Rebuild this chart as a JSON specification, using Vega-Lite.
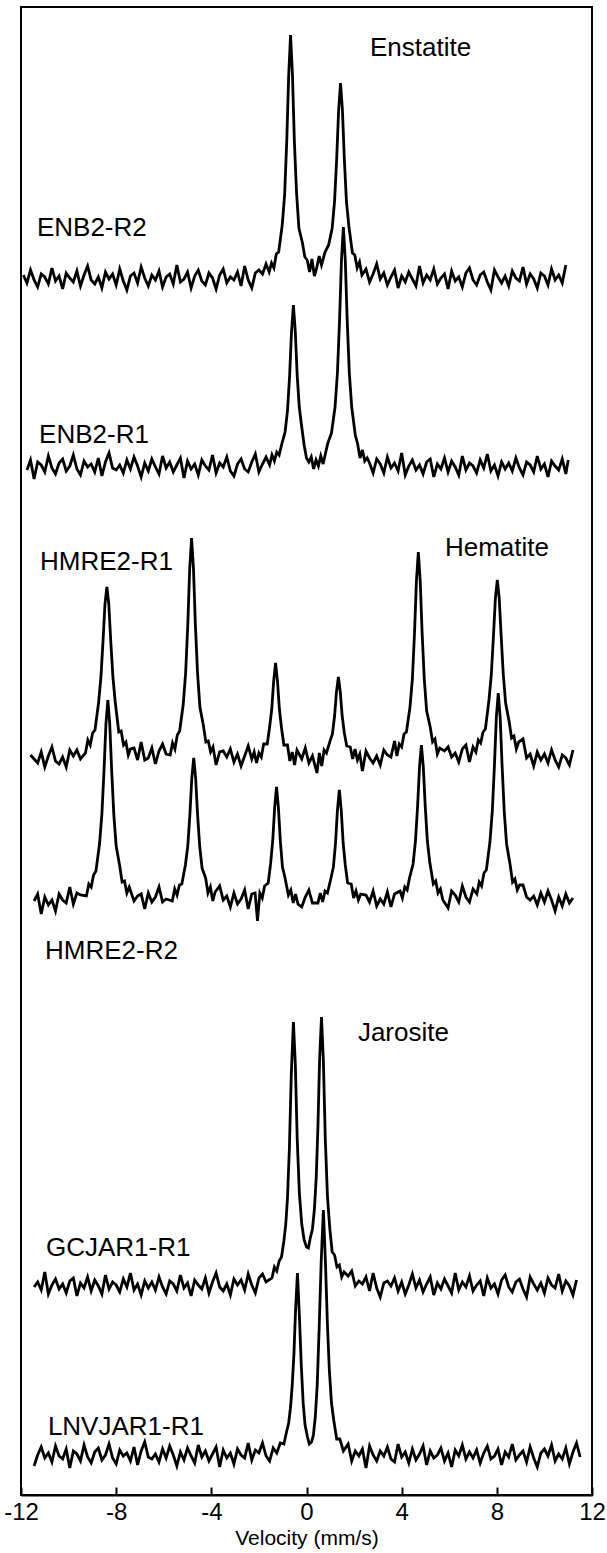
{
"$schema":"https://vega.github.io/schema/vega-lite/v6.json",
"width":571,"height":1488,
"padding":{"left":21,"top":7,"right":15,"bottom":58},
"autosize":{"type":"none"},
"background":"white",
"config":{"view":{"stroke":"black","strokeWidth":2},"font":"Liberation Sans"},
"datasets":{
"ENB2-R2":[{"v":-11.9,"y":1218},{"v":-11.75,"y":1210},{"v":-11.6,"y":1223},{"v":-11.45,"y":1213},{"v":-11.3,"y":1206},{"v":-11.15,"y":1219},{"v":-11.0,"y":1216},{"v":-10.85,"y":1209},{"v":-10.7,"y":1225},{"v":-10.55,"y":1212},{"v":-10.4,"y":1217},{"v":-10.25,"y":1204},{"v":-10.1,"y":1220},{"v":-9.95,"y":1215},{"v":-9.8,"y":1211},{"v":-9.65,"y":1222},{"v":-9.5,"y":1207},{"v":-9.35,"y":1218},{"v":-9.2,"y":1227},{"v":-9.05,"y":1213},{"v":-8.9,"y":1209},{"v":-8.75,"y":1216},{"v":-8.6,"y":1205},{"v":-8.45,"y":1221},{"v":-8.3,"y":1214},{"v":-8.15,"y":1219},{"v":-8.0,"y":1208},{"v":-7.85,"y":1224},{"v":-7.7,"y":1212},{"v":-7.55,"y":1203},{"v":-7.4,"y":1217},{"v":-7.25,"y":1220},{"v":-7.1,"y":1210},{"v":-6.95,"y":1226},{"v":-6.8,"y":1215},{"v":-6.65,"y":1207},{"v":-6.5,"y":1218},{"v":-6.35,"y":1213},{"v":-6.2,"y":1222},{"v":-6.05,"y":1206},{"v":-5.9,"y":1216},{"v":-5.75,"y":1219},{"v":-5.6,"y":1209},{"v":-5.45,"y":1228},{"v":-5.3,"y":1211},{"v":-5.15,"y":1214},{"v":-5.0,"y":1221},{"v":-4.85,"y":1205},{"v":-4.7,"y":1217},{"v":-4.55,"y":1223},{"v":-4.4,"y":1212},{"v":-4.25,"y":1208},{"v":-4.1,"y":1220},{"v":-3.95,"y":1215},{"v":-3.8,"y":1204},{"v":-3.65,"y":1218},{"v":-3.5,"y":1224},{"v":-3.35,"y":1210},{"v":-3.2,"y":1216},{"v":-3.05,"y":1213},{"v":-2.9,"y":1221},{"v":-2.75,"y":1207},{"v":-2.6,"y":1227},{"v":-2.45,"y":1213},{"v":-2.3,"y":1205},{"v":-2.15,"y":1220},{"v":-2.0,"y":1223},{"v":-1.85,"y":1219},{"v":-1.7,"y":1229},{"v":-1.57,"y":1221},{"v":-1.47,"y":1230},{"v":-1.37,"y":1225},{"v":-1.27,"y":1239},{"v":-1.17,"y":1241},{"v":-1.02,"y":1268},{"v":-0.92,"y":1298},{"v":-0.83,"y":1352},{"v":-0.75,"y":1417},{"v":-0.67,"y":1458},{"v":-0.59,"y":1418},{"v":-0.51,"y":1352},{"v":-0.42,"y":1301},{"v":-0.32,"y":1265},{"v":-0.25,"y":1258},{"v":-0.17,"y":1250},{"v":-0.07,"y":1236},{"v":0.03,"y":1233},{"v":0.13,"y":1221},{"v":0.23,"y":1234},{"v":0.33,"y":1217},{"v":0.43,"y":1225},{"v":0.53,"y":1237},{"v":0.63,"y":1228},{"v":0.78,"y":1241},{"v":0.93,"y":1248},{"v":1.08,"y":1265},{"v":1.18,"y":1292},{"v":1.27,"y":1335},{"v":1.35,"y":1383},{"v":1.43,"y":1410},{"v":1.51,"y":1383},{"v":1.59,"y":1334},{"v":1.68,"y":1291},{"v":1.78,"y":1267},{"v":1.93,"y":1240},{"v":2.03,"y":1238},{"v":2.13,"y":1225},{"v":2.23,"y":1231},{"v":2.33,"y":1218},{"v":2.5,"y":1224},{"v":2.65,"y":1211},{"v":2.8,"y":1219},{"v":2.95,"y":1229},{"v":3.1,"y":1214},{"v":3.25,"y":1220},{"v":3.4,"y":1208},{"v":3.55,"y":1216},{"v":3.7,"y":1223},{"v":3.85,"y":1205},{"v":4.0,"y":1217},{"v":4.15,"y":1211},{"v":4.3,"y":1221},{"v":4.45,"y":1214},{"v":4.6,"y":1207},{"v":4.75,"y":1227},{"v":4.9,"y":1210},{"v":5.05,"y":1218},{"v":5.2,"y":1213},{"v":5.35,"y":1224},{"v":5.5,"y":1209},{"v":5.65,"y":1215},{"v":5.8,"y":1219},{"v":5.95,"y":1204},{"v":6.1,"y":1222},{"v":6.25,"y":1212},{"v":6.4,"y":1216},{"v":6.55,"y":1206},{"v":6.7,"y":1220},{"v":6.85,"y":1225},{"v":7.0,"y":1213},{"v":7.15,"y":1208},{"v":7.3,"y":1218},{"v":7.45,"y":1221},{"v":7.6,"y":1211},{"v":7.75,"y":1203},{"v":7.9,"y":1223},{"v":8.05,"y":1216},{"v":8.2,"y":1210},{"v":8.35,"y":1217},{"v":8.5,"y":1207},{"v":8.65,"y":1222},{"v":8.8,"y":1215},{"v":8.95,"y":1212},{"v":9.1,"y":1226},{"v":9.25,"y":1209},{"v":9.4,"y":1219},{"v":9.55,"y":1214},{"v":9.7,"y":1205},{"v":9.85,"y":1220},{"v":10.0,"y":1217},{"v":10.15,"y":1208},{"v":10.3,"y":1224},{"v":10.45,"y":1213},{"v":10.6,"y":1218},{"v":10.75,"y":1210},{"v":10.9,"y":1228}],
"ENB2-R1":[{"v":-11.75,"y":1023},{"v":-11.6,"y":1033},{"v":-11.45,"y":1014},{"v":-11.3,"y":1031},{"v":-11.15,"y":1028},{"v":-11.0,"y":1021},{"v":-10.85,"y":1037},{"v":-10.7,"y":1025},{"v":-10.55,"y":1019},{"v":-10.4,"y":1030},{"v":-10.25,"y":1034},{"v":-10.1,"y":1022},{"v":-9.95,"y":1027},{"v":-9.8,"y":1038},{"v":-9.65,"y":1024},{"v":-9.5,"y":1018},{"v":-9.35,"y":1032},{"v":-9.2,"y":1026},{"v":-9.05,"y":1029},{"v":-8.9,"y":1021},{"v":-8.75,"y":1035},{"v":-8.6,"y":1017},{"v":-8.45,"y":1031},{"v":-8.3,"y":1040},{"v":-8.15,"y":1025},{"v":-8.0,"y":1023},{"v":-7.85,"y":1028},{"v":-7.7,"y":1020},{"v":-7.55,"y":1033},{"v":-7.4,"y":1024},{"v":-7.25,"y":1036},{"v":-7.1,"y":1027},{"v":-6.95,"y":1016},{"v":-6.8,"y":1030},{"v":-6.65,"y":1022},{"v":-6.5,"y":1034},{"v":-6.35,"y":1026},{"v":-6.2,"y":1019},{"v":-6.05,"y":1037},{"v":-5.9,"y":1025},{"v":-5.75,"y":1031},{"v":-5.6,"y":1021},{"v":-5.45,"y":1028},{"v":-5.3,"y":1035},{"v":-5.15,"y":1015},{"v":-5.0,"y":1032},{"v":-4.85,"y":1024},{"v":-4.7,"y":1029},{"v":-4.55,"y":1018},{"v":-4.4,"y":1033},{"v":-4.25,"y":1027},{"v":-4.1,"y":1023},{"v":-3.95,"y":1038},{"v":-3.8,"y":1020},{"v":-3.65,"y":1030},{"v":-3.5,"y":1026},{"v":-3.35,"y":1036},{"v":-3.2,"y":1022},{"v":-3.05,"y":1017},{"v":-2.9,"y":1029},{"v":-2.75,"y":1034},{"v":-2.6,"y":1024},{"v":-2.45,"y":1021},{"v":-2.3,"y":1031},{"v":-2.15,"y":1039},{"v":-2.0,"y":1021},{"v":-1.85,"y":1029},{"v":-1.7,"y":1036},{"v":-1.55,"y":1028},{"v":-1.45,"y":1038},{"v":-1.35,"y":1032},{"v":-1.25,"y":1041},{"v":-1.15,"y":1038},{"v":-1.05,"y":1048},{"v":-0.9,"y":1061},{"v":-0.8,"y":1082},{"v":-0.71,"y":1117},{"v":-0.63,"y":1161},{"v":-0.55,"y":1188},{"v":-0.47,"y":1161},{"v":-0.39,"y":1117},{"v":-0.3,"y":1085},{"v":-0.2,"y":1066},{"v":-0.1,"y":1048},{"v":0.0,"y":1035},{"v":0.1,"y":1031},{"v":0.2,"y":1036},{"v":0.3,"y":1024},{"v":0.4,"y":1033},{"v":0.5,"y":1027},{"v":0.6,"y":1037},{"v":0.7,"y":1029},{"v":0.8,"y":1040},{"v":0.9,"y":1050},{"v":1.05,"y":1060},{"v":1.2,"y":1086},{"v":1.3,"y":1120},{"v":1.39,"y":1173},{"v":1.47,"y":1233},{"v":1.55,"y":1266},{"v":1.63,"y":1233},{"v":1.71,"y":1173},{"v":1.8,"y":1120},{"v":1.9,"y":1086},{"v":2.05,"y":1058},{"v":2.15,"y":1049},{"v":2.25,"y":1035},{"v":2.35,"y":1043},{"v":2.45,"y":1032},{"v":2.55,"y":1035},{"v":2.65,"y":1030},{"v":2.8,"y":1020},{"v":2.95,"y":1034},{"v":3.1,"y":1029},{"v":3.25,"y":1020},{"v":3.4,"y":1036},{"v":3.55,"y":1025},{"v":3.7,"y":1030},{"v":3.85,"y":1022},{"v":4.0,"y":1040},{"v":4.15,"y":1018},{"v":4.3,"y":1027},{"v":4.45,"y":1033},{"v":4.6,"y":1023},{"v":4.75,"y":1028},{"v":4.9,"y":1019},{"v":5.05,"y":1031},{"v":5.2,"y":1034},{"v":5.35,"y":1016},{"v":5.5,"y":1029},{"v":5.65,"y":1024},{"v":5.8,"y":1035},{"v":5.95,"y":1021},{"v":6.1,"y":1032},{"v":6.25,"y":1026},{"v":6.4,"y":1018},{"v":6.55,"y":1037},{"v":6.7,"y":1023},{"v":6.85,"y":1030},{"v":7.0,"y":1027},{"v":7.15,"y":1020},{"v":7.3,"y":1033},{"v":7.45,"y":1025},{"v":7.6,"y":1039},{"v":7.75,"y":1022},{"v":7.9,"y":1028},{"v":8.05,"y":1017},{"v":8.2,"y":1031},{"v":8.35,"y":1024},{"v":8.5,"y":1030},{"v":8.65,"y":1022},{"v":8.8,"y":1035},{"v":8.95,"y":1025},{"v":9.1,"y":1018},{"v":9.25,"y":1031},{"v":9.4,"y":1028},{"v":9.55,"y":1021},{"v":9.7,"y":1037},{"v":9.85,"y":1024},{"v":10.0,"y":1029},{"v":10.15,"y":1016},{"v":10.3,"y":1032},{"v":10.45,"y":1027},{"v":10.6,"y":1023},{"v":10.75,"y":1034},{"v":10.9,"y":1019},{"v":11.0,"y":1033}],
"HMRE2-R1":[{"v":-11.6,"y":738},{"v":-11.45,"y":734},{"v":-11.3,"y":730},{"v":-11.15,"y":741},{"v":-11.0,"y":726},{"v":-10.85,"y":737},{"v":-10.7,"y":746},{"v":-10.55,"y":732},{"v":-10.4,"y":729},{"v":-10.25,"y":736},{"v":-10.1,"y":726},{"v":-9.95,"y":743},{"v":-9.8,"y":737},{"v":-9.65,"y":743},{"v":-9.5,"y":734},{"v":-9.29,"y":740},{"v":-9.19,"y":753},{"v":-9.09,"y":748},{"v":-8.99,"y":760},{"v":-8.89,"y":763},{"v":-8.74,"y":790},{"v":-8.64,"y":816},{"v":-8.55,"y":853},{"v":-8.47,"y":889},{"v":-8.39,"y":906},{"v":-8.31,"y":889},{"v":-8.23,"y":853},{"v":-8.14,"y":817},{"v":-8.04,"y":791},{"v":-7.89,"y":761},{"v":-7.79,"y":762},{"v":-7.69,"y":748},{"v":-7.59,"y":751},{"v":-7.49,"y":738},{"v":-7.4,"y":744},{"v":-7.25,"y":745},{"v":-7.1,"y":733},{"v":-6.95,"y":751},{"v":-6.8,"y":733},{"v":-6.65,"y":735},{"v":-6.5,"y":745},{"v":-6.35,"y":729},{"v":-6.2,"y":742},{"v":-6.05,"y":749},{"v":-5.9,"y":739},{"v":-5.73,"y":738},{"v":-5.63,"y":750},{"v":-5.53,"y":744},{"v":-5.43,"y":758},{"v":-5.33,"y":762},{"v":-5.18,"y":789},{"v":-5.08,"y":820},{"v":-4.99,"y":868},{"v":-4.91,"y":924},{"v":-4.83,"y":955},{"v":-4.75,"y":924},{"v":-4.67,"y":868},{"v":-4.58,"y":820},{"v":-4.48,"y":786},{"v":-4.33,"y":767},{"v":-4.23,"y":751},{"v":-4.13,"y":752},{"v":-4.03,"y":741},{"v":-3.93,"y":746},{"v":-3.8,"y":728},{"v":-3.65,"y":741},{"v":-3.5,"y":742},{"v":-3.35,"y":736},{"v":-3.2,"y":744},{"v":-3.05,"y":731},{"v":-2.9,"y":739},{"v":-2.75,"y":727},{"v":-2.6,"y":737},{"v":-2.45,"y":747},{"v":-2.3,"y":734},{"v":-2.2,"y":741},{"v":-2.1,"y":730},{"v":-2.0,"y":740},{"v":-1.9,"y":736},{"v":-1.8,"y":749},{"v":-1.65,"y":749},{"v":-1.55,"y":766},{"v":-1.46,"y":784},{"v":-1.38,"y":812},{"v":-1.3,"y":830},{"v":-1.22,"y":812},{"v":-1.14,"y":784},{"v":-1.05,"y":765},{"v":-0.95,"y":748},{"v":-0.8,"y":748},{"v":-0.7,"y":732},{"v":-0.6,"y":741},{"v":-0.5,"y":728},{"v":-0.4,"y":743},{"v":-0.2,"y":734},{"v":-0.05,"y":745},{"v":0.1,"y":730},{"v":0.25,"y":737},{"v":0.44,"y":720},{"v":0.54,"y":740},{"v":0.64,"y":727},{"v":0.74,"y":743},{"v":0.84,"y":740},{"v":0.99,"y":752},{"v":1.09,"y":759},{"v":1.18,"y":777},{"v":1.26,"y":801},{"v":1.34,"y":816},{"v":1.42,"y":801},{"v":1.5,"y":777},{"v":1.59,"y":760},{"v":1.69,"y":747},{"v":1.84,"y":746},{"v":1.94,"y":734},{"v":2.04,"y":744},{"v":2.14,"y":733},{"v":2.24,"y":739},{"v":2.35,"y":722},{"v":2.5,"y":742},{"v":2.65,"y":735},{"v":2.8,"y":730},{"v":2.95,"y":737},{"v":3.1,"y":728},{"v":3.25,"y":743},{"v":3.4,"y":738},{"v":3.55,"y":736},{"v":3.7,"y":752},{"v":3.8,"y":737},{"v":3.9,"y":749},{"v":4.0,"y":746},{"v":4.1,"y":759},{"v":4.2,"y":761},{"v":4.35,"y":786},{"v":4.45,"y":814},{"v":4.54,"y":860},{"v":4.62,"y":912},{"v":4.7,"y":941},{"v":4.78,"y":912},{"v":4.86,"y":860},{"v":4.95,"y":814},{"v":5.05,"y":782},{"v":5.2,"y":766},{"v":5.3,"y":751},{"v":5.4,"y":754},{"v":5.5,"y":739},{"v":5.6,"y":745},{"v":5.8,"y":742},{"v":5.95,"y":746},{"v":6.1,"y":736},{"v":6.25,"y":740},{"v":6.4,"y":731},{"v":6.55,"y":744},{"v":6.7,"y":748},{"v":6.85,"y":731},{"v":7.0,"y":746},{"v":7.12,"y":741},{"v":7.22,"y":753},{"v":7.32,"y":750},{"v":7.42,"y":761},{"v":7.52,"y":764},{"v":7.67,"y":793},{"v":7.77,"y":819},{"v":7.86,"y":858},{"v":7.94,"y":895},{"v":8.02,"y":913},{"v":8.1,"y":895},{"v":8.18,"y":858},{"v":8.27,"y":819},{"v":8.37,"y":790},{"v":8.52,"y":771},{"v":8.62,"y":755},{"v":8.72,"y":757},{"v":8.82,"y":744},{"v":8.92,"y":751},{"v":9.1,"y":754},{"v":9.25,"y":735},{"v":9.4,"y":739},{"v":9.55,"y":727},{"v":9.7,"y":741},{"v":9.85,"y":733},{"v":10.0,"y":739},{"v":10.15,"y":730},{"v":10.3,"y":743},{"v":10.45,"y":733},{"v":10.6,"y":726},{"v":10.75,"y":738},{"v":10.9,"y":735},{"v":11.05,"y":728},{"v":11.2,"y":743}],
"HMRE2-R2":[{"v":-11.45,"y":592},{"v":-11.3,"y":599},{"v":-11.15,"y":579},{"v":-11.0,"y":596},{"v":-10.85,"y":588},{"v":-10.7,"y":593},{"v":-10.55,"y":582},{"v":-10.4,"y":599},{"v":-10.25,"y":593},{"v":-10.1,"y":590},{"v":-9.95,"y":606},{"v":-9.8,"y":589},{"v":-9.65,"y":600},{"v":-9.5,"y":598},{"v":-9.25,"y":597},{"v":-9.15,"y":609},{"v":-9.05,"y":606},{"v":-8.95,"y":618},{"v":-8.85,"y":622},{"v":-8.7,"y":649},{"v":-8.6,"y":679},{"v":-8.51,"y":723},{"v":-8.43,"y":769},{"v":-8.35,"y":793},{"v":-8.27,"y":769},{"v":-8.19,"y":723},{"v":-8.1,"y":679},{"v":-8.0,"y":647},{"v":-7.85,"y":627},{"v":-7.75,"y":611},{"v":-7.65,"y":612},{"v":-7.55,"y":600},{"v":-7.45,"y":606},{"v":-7.25,"y":592},{"v":-7.1,"y":597},{"v":-6.95,"y":599},{"v":-6.8,"y":584},{"v":-6.65,"y":600},{"v":-6.5,"y":591},{"v":-6.35,"y":596},{"v":-6.2,"y":606},{"v":-6.05,"y":591},{"v":-5.9,"y":594},{"v":-5.64,"y":592},{"v":-5.54,"y":604},{"v":-5.44,"y":598},{"v":-5.34,"y":608},{"v":-5.24,"y":609},{"v":-5.09,"y":628},{"v":-4.99,"y":647},{"v":-4.9,"y":679},{"v":-4.82,"y":715},{"v":-4.74,"y":735},{"v":-4.66,"y":715},{"v":-4.58,"y":679},{"v":-4.49,"y":647},{"v":-4.39,"y":625},{"v":-4.24,"y":615},{"v":-4.14,"y":600},{"v":-4.04,"y":606},{"v":-3.94,"y":592},{"v":-3.84,"y":601},{"v":-3.65,"y":607},{"v":-3.5,"y":593},{"v":-3.35,"y":597},{"v":-3.2,"y":586},{"v":-3.05,"y":600},{"v":-2.9,"y":589},{"v":-2.75,"y":594},{"v":-2.6,"y":603},{"v":-2.45,"y":584},{"v":-2.3,"y":599},{"v":-2.16,"y":600},{"v":-2.06,"y":572},{"v":-1.96,"y":600},{"v":-1.86,"y":595},{"v":-1.76,"y":607},{"v":-1.61,"y":610},{"v":-1.51,"y":629},{"v":-1.42,"y":652},{"v":-1.34,"y":685},{"v":-1.26,"y":706},{"v":-1.18,"y":685},{"v":-1.1,"y":652},{"v":-1.01,"y":626},{"v":-0.91,"y":616},{"v":-0.76,"y":598},{"v":-0.66,"y":603},{"v":-0.56,"y":590},{"v":-0.46,"y":599},{"v":-0.36,"y":589},{"v":-0.2,"y":586},{"v":-0.05,"y":596},{"v":0.1,"y":603},{"v":0.25,"y":590},{"v":0.48,"y":590},{"v":0.58,"y":600},{"v":0.68,"y":591},{"v":0.78,"y":602},{"v":0.88,"y":600},{"v":1.03,"y":615},{"v":1.13,"y":626},{"v":1.22,"y":650},{"v":1.3,"y":683},{"v":1.38,"y":703},{"v":1.46,"y":683},{"v":1.54,"y":650},{"v":1.63,"y":628},{"v":1.73,"y":610},{"v":1.88,"y":609},{"v":1.98,"y":595},{"v":2.08,"y":602},{"v":2.18,"y":593},{"v":2.28,"y":599},{"v":2.5,"y":598},{"v":2.65,"y":591},{"v":2.8,"y":602},{"v":2.95,"y":587},{"v":3.1,"y":594},{"v":3.25,"y":589},{"v":3.4,"y":601},{"v":3.55,"y":586},{"v":3.7,"y":599},{"v":3.93,"y":602},{"v":4.03,"y":595},{"v":4.13,"y":606},{"v":4.23,"y":603},{"v":4.33,"y":615},{"v":4.48,"y":629},{"v":4.58,"y":652},{"v":4.67,"y":687},{"v":4.75,"y":726},{"v":4.83,"y":748},{"v":4.91,"y":726},{"v":4.99,"y":687},{"v":5.08,"y":652},{"v":5.18,"y":631},{"v":5.33,"y":609},{"v":5.43,"y":612},{"v":5.53,"y":600},{"v":5.63,"y":604},{"v":5.73,"y":593},{"v":5.95,"y":585},{"v":6.1,"y":602},{"v":6.25,"y":598},{"v":6.4,"y":591},{"v":6.55,"y":607},{"v":6.7,"y":596},{"v":6.85,"y":591},{"v":7.0,"y":604},{"v":7.16,"y":599},{"v":7.26,"y":611},{"v":7.36,"y":607},{"v":7.46,"y":620},{"v":7.56,"y":623},{"v":7.71,"y":651},{"v":7.81,"y":682},{"v":7.9,"y":728},{"v":7.98,"y":776},{"v":8.06,"y":800},{"v":8.14,"y":776},{"v":8.22,"y":728},{"v":8.31,"y":682},{"v":8.41,"y":649},{"v":8.56,"y":628},{"v":8.66,"y":611},{"v":8.76,"y":614},{"v":8.86,"y":603},{"v":8.96,"y":608},{"v":9.1,"y":608},{"v":9.25,"y":596},{"v":9.4,"y":593},{"v":9.55,"y":597},{"v":9.7,"y":588},{"v":9.85,"y":600},{"v":10.0,"y":591},{"v":10.15,"y":602},{"v":10.3,"y":593},{"v":10.45,"y":582},{"v":10.6,"y":596},{"v":10.75,"y":587},{"v":10.9,"y":599},{"v":11.05,"y":590},{"v":11.2,"y":595}],
"GCJAR1-R1":[{"v":-11.45,"y":206},{"v":-11.3,"y":211},{"v":-11.15,"y":203},{"v":-11.0,"y":221},{"v":-10.85,"y":199},{"v":-10.7,"y":208},{"v":-10.55,"y":214},{"v":-10.4,"y":204},{"v":-10.25,"y":209},{"v":-10.1,"y":200},{"v":-9.95,"y":212},{"v":-9.8,"y":215},{"v":-9.65,"y":197},{"v":-9.5,"y":210},{"v":-9.35,"y":205},{"v":-9.2,"y":216},{"v":-9.05,"y":202},{"v":-8.9,"y":213},{"v":-8.75,"y":207},{"v":-8.6,"y":199},{"v":-8.45,"y":218},{"v":-8.3,"y":204},{"v":-8.15,"y":211},{"v":-8.0,"y":208},{"v":-7.85,"y":201},{"v":-7.7,"y":214},{"v":-7.55,"y":206},{"v":-7.4,"y":220},{"v":-7.25,"y":203},{"v":-7.1,"y":209},{"v":-6.95,"y":198},{"v":-6.8,"y":212},{"v":-6.65,"y":205},{"v":-6.5,"y":211},{"v":-6.35,"y":203},{"v":-6.2,"y":216},{"v":-6.05,"y":206},{"v":-5.9,"y":199},{"v":-5.75,"y":212},{"v":-5.6,"y":209},{"v":-5.45,"y":202},{"v":-5.3,"y":218},{"v":-5.15,"y":205},{"v":-5.0,"y":210},{"v":-4.85,"y":197},{"v":-4.7,"y":213},{"v":-4.55,"y":208},{"v":-4.4,"y":204},{"v":-4.25,"y":215},{"v":-4.1,"y":200},{"v":-3.95,"y":211},{"v":-3.8,"y":220},{"v":-3.65,"y":206},{"v":-3.5,"y":202},{"v":-3.35,"y":209},{"v":-3.2,"y":198},{"v":-3.05,"y":214},{"v":-2.9,"y":208},{"v":-2.75,"y":213},{"v":-2.6,"y":203},{"v":-2.45,"y":219},{"v":-2.3,"y":208},{"v":-2.15,"y":200},{"v":-2.0,"y":215},{"v":-1.85,"y":219},{"v":-1.7,"y":211},{"v":-1.45,"y":215},{"v":-1.35,"y":226},{"v":-1.25,"y":222},{"v":-1.15,"y":232},{"v":-1.05,"y":236},{"v":-0.95,"y":252},{"v":-0.87,"y":269},{"v":-0.8,"y":295},{"v":-0.72,"y":344},{"v":-0.64,"y":418},{"v":-0.55,"y":471},{"v":-0.47,"y":429},{"v":-0.39,"y":354},{"v":-0.3,"y":300},{"v":-0.2,"y":269},{"v":-0.1,"y":253},{"v":0.0,"y":246},{"v":0.08,"y":245},{"v":0.16,"y":255},{"v":0.25,"y":264},{"v":0.33,"y":283},{"v":0.41,"y":316},{"v":0.48,"y":366},{"v":0.55,"y":433},{"v":0.63,"y":476},{"v":0.71,"y":432},{"v":0.79,"y":354},{"v":0.88,"y":297},{"v":0.98,"y":264},{"v":1.08,"y":241},{"v":1.18,"y":238},{"v":1.28,"y":226},{"v":1.38,"y":228},{"v":1.48,"y":216},{"v":1.58,"y":221},{"v":1.75,"y":217},{"v":1.9,"y":222},{"v":2.05,"y":207},{"v":2.2,"y":212},{"v":2.35,"y":209},{"v":2.5,"y":216},{"v":2.65,"y":202},{"v":2.8,"y":220},{"v":2.95,"y":205},{"v":3.1,"y":196},{"v":3.25,"y":210},{"v":3.4,"y":212},{"v":3.55,"y":207},{"v":3.7,"y":215},{"v":3.85,"y":202},{"v":4.0,"y":211},{"v":4.15,"y":199},{"v":4.3,"y":208},{"v":4.45,"y":219},{"v":4.6,"y":205},{"v":4.75,"y":213},{"v":4.9,"y":201},{"v":5.05,"y":209},{"v":5.2,"y":216},{"v":5.35,"y":198},{"v":5.5,"y":210},{"v":5.65,"y":204},{"v":5.8,"y":214},{"v":5.95,"y":207},{"v":6.1,"y":200},{"v":6.25,"y":220},{"v":6.4,"y":203},{"v":6.55,"y":211},{"v":6.7,"y":206},{"v":6.85,"y":217},{"v":7.0,"y":202},{"v":7.15,"y":208},{"v":7.3,"y":212},{"v":7.45,"y":197},{"v":7.6,"y":215},{"v":7.75,"y":205},{"v":7.9,"y":209},{"v":8.05,"y":199},{"v":8.2,"y":213},{"v":8.35,"y":218},{"v":8.5,"y":206},{"v":8.65,"y":201},{"v":8.8,"y":211},{"v":8.95,"y":214},{"v":9.1,"y":204},{"v":9.25,"y":196},{"v":9.4,"y":216},{"v":9.55,"y":209},{"v":9.7,"y":203},{"v":9.85,"y":210},{"v":10.0,"y":200},{"v":10.15,"y":215},{"v":10.3,"y":208},{"v":10.45,"y":205},{"v":10.6,"y":219},{"v":10.75,"y":202},{"v":10.9,"y":212},{"v":11.05,"y":207},{"v":11.2,"y":198},{"v":11.35,"y":213}],
"LNVJAR1-R1":[{"v":-11.45,"y":27},{"v":-11.3,"y":38},{"v":-11.15,"y":46},{"v":-11.0,"y":35},{"v":-10.85,"y":40},{"v":-10.7,"y":31},{"v":-10.55,"y":47},{"v":-10.4,"y":37},{"v":-10.25,"y":34},{"v":-10.1,"y":44},{"v":-9.95,"y":25},{"v":-9.8,"y":42},{"v":-9.65,"y":39},{"v":-9.5,"y":32},{"v":-9.35,"y":48},{"v":-9.2,"y":36},{"v":-9.05,"y":30},{"v":-8.9,"y":41},{"v":-8.75,"y":45},{"v":-8.6,"y":33},{"v":-8.45,"y":38},{"v":-8.3,"y":49},{"v":-8.15,"y":35},{"v":-8.0,"y":29},{"v":-7.85,"y":43},{"v":-7.7,"y":37},{"v":-7.55,"y":40},{"v":-7.4,"y":32},{"v":-7.25,"y":46},{"v":-7.1,"y":28},{"v":-6.95,"y":42},{"v":-6.8,"y":51},{"v":-6.65,"y":36},{"v":-6.5,"y":34},{"v":-6.35,"y":39},{"v":-6.2,"y":31},{"v":-6.05,"y":44},{"v":-5.9,"y":35},{"v":-5.75,"y":47},{"v":-5.6,"y":38},{"v":-5.45,"y":27},{"v":-5.3,"y":41},{"v":-5.15,"y":33},{"v":-5.0,"y":45},{"v":-4.85,"y":37},{"v":-4.7,"y":30},{"v":-4.55,"y":48},{"v":-4.4,"y":36},{"v":-4.25,"y":42},{"v":-4.1,"y":32},{"v":-3.95,"y":39},{"v":-3.8,"y":46},{"v":-3.65,"y":26},{"v":-3.5,"y":43},{"v":-3.35,"y":35},{"v":-3.2,"y":40},{"v":-3.05,"y":29},{"v":-2.9,"y":44},{"v":-2.75,"y":38},{"v":-2.6,"y":35},{"v":-2.45,"y":50},{"v":-2.3,"y":33},{"v":-2.15,"y":43},{"v":-2.0,"y":40},{"v":-1.85,"y":50},{"v":-1.7,"y":37},{"v":-1.55,"y":32},{"v":-1.4,"y":45},{"v":-1.25,"y":40},{"v":-1.1,"y":50},{"v":-0.95,"y":49},{"v":-0.85,"y":60},{"v":-0.75,"y":70},{"v":-0.67,"y":86},{"v":-0.6,"y":108},{"v":-0.53,"y":138},{"v":-0.46,"y":183},{"v":-0.38,"y":220},{"v":-0.3,"y":178},{"v":-0.22,"y":128},{"v":-0.14,"y":90},{"v":-0.06,"y":68},{"v":0.04,"y":56},{"v":0.12,"y":49},{"v":0.21,"y":51},{"v":0.29,"y":58},{"v":0.37,"y":76},{"v":0.45,"y":108},{"v":0.53,"y":163},{"v":0.62,"y":233},{"v":0.71,"y":283},{"v":0.8,"y":228},{"v":0.88,"y":168},{"v":0.96,"y":123},{"v":1.05,"y":90},{"v":1.15,"y":72},{"v":1.27,"y":54},{"v":1.4,"y":54},{"v":1.55,"y":42},{"v":1.75,"y":49},{"v":1.9,"y":32},{"v":2.05,"y":42},{"v":2.2,"y":37},{"v":2.35,"y":44},{"v":2.5,"y":25},{"v":2.65,"y":47},{"v":2.8,"y":38},{"v":2.95,"y":32},{"v":3.1,"y":42},{"v":3.25,"y":37},{"v":3.4,"y":46},{"v":3.55,"y":34},{"v":3.7,"y":31},{"v":3.85,"y":49},{"v":4.0,"y":36},{"v":4.15,"y":41},{"v":4.3,"y":30},{"v":4.45,"y":44},{"v":4.6,"y":33},{"v":4.75,"y":39},{"v":4.9,"y":47},{"v":5.05,"y":28},{"v":5.2,"y":42},{"v":5.35,"y":35},{"v":5.5,"y":38},{"v":5.65,"y":45},{"v":5.8,"y":32},{"v":5.95,"y":40},{"v":6.1,"y":26},{"v":6.25,"y":43},{"v":6.4,"y":37},{"v":6.55,"y":48},{"v":6.7,"y":34},{"v":6.85,"y":41},{"v":7.0,"y":35},{"v":7.15,"y":43},{"v":7.3,"y":30},{"v":7.45,"y":40},{"v":7.6,"y":47},{"v":7.75,"y":34},{"v":7.9,"y":37},{"v":8.05,"y":44},{"v":8.2,"y":28},{"v":8.35,"y":41},{"v":8.5,"y":36},{"v":8.65,"y":49},{"v":8.8,"y":33},{"v":8.95,"y":38},{"v":9.1,"y":42},{"v":9.25,"y":31},{"v":9.4,"y":46},{"v":9.55,"y":35},{"v":9.7,"y":26},{"v":9.85,"y":40},{"v":10.0,"y":44},{"v":10.15,"y":37},{"v":10.3,"y":48},{"v":10.45,"y":32},{"v":10.6,"y":39},{"v":10.75,"y":34},{"v":10.9,"y":45},{"v":11.05,"y":29},{"v":11.2,"y":41},{"v":11.35,"y":50},{"v":11.5,"y":36}],
"labels":[{"t":"Enstatite","v":2.67,"y":1445},{"t":"ENB2-R2","v":-11.33,"y":1265},{"t":"ENB2-R1","v":-11.24,"y":1058},{"t":"HMRE2-R1","v":-11.2,"y":931},{"t":"Hematite","v":5.82,"y":945},{"t":"HMRE2-R2","v":-10.99,"y":542},{"t":"Jarosite","v":2.16,"y":460},{"t":"GCJAR1-R1","v":-10.95,"y":245},{"t":"LNVJAR1-R1","v":-10.87,"y":66}]
},
"encoding":{
"x":{"field":"v","type":"quantitative","scale":{"domain":[-12,12],"nice":false,"zero":false},
"axis":{"values":[-12,-8,-4,0,4,8,12],"labelExpr":"(datum.value < 0 ? '-' : '') + abs(datum.value)","title":"Velocity (mm/s)","grid":false,"tickSize":-8,"tickWidth":2,"tickColor":"black","domainColor":"black","domainWidth":2,"labelFont":"Liberation Sans","labelFontSize":24,"labelColor":"black","labelPadding":13,"labelFlush":false,"labelOverlap":false,"titleFont":"Liberation Sans","titleFontSize":21,"titleFontWeight":"normal","titleColor":"black","titlePadding":3}},
"y":{"field":"y","type":"quantitative","scale":{"domain":[-2,1486],"nice":false,"zero":false},"axis":null}
},
"layer":[
{"data":{"name":"ENB2-R2"},"mark":{"type":"line","color":"black","strokeWidth":2.8},"encoding":{}},
{"data":{"name":"ENB2-R1"},"mark":{"type":"line","color":"black","strokeWidth":2.8},"encoding":{}},
{"data":{"name":"HMRE2-R1"},"mark":{"type":"line","color":"black","strokeWidth":2.8},"encoding":{}},
{"data":{"name":"HMRE2-R2"},"mark":{"type":"line","color":"black","strokeWidth":2.8},"encoding":{}},
{"data":{"name":"GCJAR1-R1"},"mark":{"type":"line","color":"black","strokeWidth":2.8},"encoding":{}},
{"data":{"name":"LNVJAR1-R1"},"mark":{"type":"line","color":"black","strokeWidth":2.8},"encoding":{}},
{"data":{"name":"labels"},"mark":{"type":"text","align":"left","baseline":"middle","fontSize":26,"font":"Liberation Sans","color":"black"},"encoding":{"text":{"field":"t"}}}
]
}
